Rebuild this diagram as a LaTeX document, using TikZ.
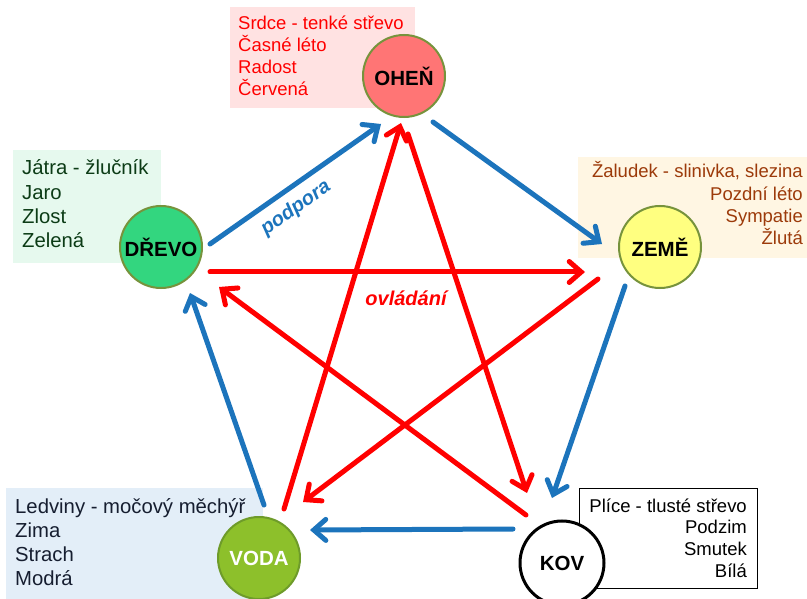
\documentclass[tikz,border=0pt]{standalone}
\usepackage{fontspec}
\setmainfont{Liberation Sans}
\usetikzlibrary{arrows.meta}
\definecolor{ablue}{RGB}{28,116,188}
\definecolor{ared}{RGB}{255,0,0}
\definecolor{olivebd}{RGB}{119,147,60}
\definecolor{ohenfill}{RGB}{255,117,117}
\definecolor{ohenbg}{RGB}{255,226,226}
\definecolor{drevofill}{RGB}{51,214,127}
\definecolor{drevobg}{RGB}{230,249,238}
\definecolor{drevotxt}{RGB}{12,60,22}
\definecolor{zemefill}{RGB}{255,255,128}
\definecolor{zemebg}{RGB}{255,246,227}
\definecolor{zemetxt}{RGB}{156,58,10}
\definecolor{vodafill}{RGB}{141,192,43}
\definecolor{vodabd}{RGB}{110,155,42}
\definecolor{vodabg}{RGB}{227,238,248}
\definecolor{vodatxt}{RGB}{22,30,48}
\begin{document}
\begin{tikzpicture}[x=1pt,y=-1pt,
  circ/.style={circle, draw=olivebd, line width=2pt, minimum size=82pt, inner sep=0pt,
    font=\fontsize{20.5}{24}\selectfont\bfseries},
  bgbox/.style={rectangle, inner sep=0pt, anchor=north west},
  smalltxt/.style={inner sep=0pt, font=\fontsize{18.5}{22}\selectfont},
  bigtxt/.style={inner sep=0pt, font=\fontsize{20.3}{24}\selectfont},
  supportarrow/.style={draw=ablue, line width=5pt, line cap=round,
    -{Straight Barb[length=12pt,width=21pt,line cap=round]}},
  ctrlarrow/.style={draw=ared, line width=5pt, line cap=round,
    -{Straight Barb[length=12pt,width=21pt,line cap=round]}},
  lbl/.style={inner sep=0pt, font=\fontsize{20}{24}\selectfont\bfseries\itshape}]
\useasboundingbox (0,0) rectangle (807,599);

% background boxes
\node[bgbox, fill=ohenbg, minimum width=185pt, minimum height=101pt] (ohenbox) at (230,7) {};
\node[bgbox, fill=drevobg, minimum width=148pt, minimum height=113pt] (drevobox) at (13,150) {};
\node[bgbox, fill=zemebg, minimum width=229pt, minimum height=101pt] (zemebox) at (578,157) {};
\node[bgbox, fill=vodabg, minimum width=257pt, minimum height=111pt] (vodabox) at (6,488) {};
\node[bgbox, fill=white, draw=black, line width=1.3pt, minimum width=178pt, minimum height=100pt] (kovbox) at (579,488) {};

% box texts
\foreach \t [count=\i] in {Srdce - tenké střevo, Časné léto, Radost, Červená}
  \node[smalltxt, text=ared, anchor=base west] (ohent\i) at (238,{30+22*(\i-1)}) {\t};
\foreach \t [count=\i] in {Játra - žlučník, Jaro, Zlost, Zelená}
  \node[bigtxt, text=drevotxt, anchor=base west] (drevot\i) at (22,{175+24.3*(\i-1)}) {\t};
\foreach \t [count=\i] in {{Žaludek - slinivka, slezina}, Pozdní léto, Sympatie, Žlutá}
  \node[smalltxt, text=zemetxt, anchor=base east] (zemet\i) at (803,{178+22.3*(\i-1)}) {\t};
\foreach \t [count=\i] in {Ledviny - močový měchýř, Zima, Strach, Modrá}
  \node[bigtxt, text=vodatxt, anchor=base west] (vodat\i) at (15,{513+24.3*(\i-1)}) {\t};
\foreach \t [count=\i] in {Plíce - tlusté střevo, Podzim, Smutek, Bílá}
  \node[smalltxt, text=black, anchor=base east] (kovt\i) at (747,{512+21.7*(\i-1)}) {\t};

% arrow end points
\coordinate (b1s) at (210,244); \coordinate (b1e) at (381,124);
\coordinate (b2s) at (433,122); \coordinate (b2e) at (602,244);
\coordinate (b3s) at (625,286); \coordinate (b3e) at (552,498);
\coordinate (b4s) at (513,529); \coordinate (b4e) at (310,530);
\coordinate (b5s) at (264,505); \coordinate (b5e) at (190,293);
\coordinate (r1s) at (210,272); \coordinate (r1e) at (585,272);
\coordinate (r2s) at (598,279); \coordinate (r2e) at (303,502);
\coordinate (r3s) at (284,509); \coordinate (r3e) at (401,123);
\coordinate (r4s) at (408,134); \coordinate (r4e) at (527,493);
\coordinate (r5s) at (526,515); \coordinate (r5e) at (219,287);

% control (red) arrows
\draw[ctrlarrow] (r1s) -- (r1e);
\draw[ctrlarrow] (r2s) -- (r2e);
\draw[ctrlarrow] (r3s) -- (r3e);
\draw[ctrlarrow] (r4s) -- (r4e);
\draw[ctrlarrow] (r5s) -- (r5e);
% support (blue) arrows
\draw[supportarrow] (b1s) -- (b1e);
\draw[supportarrow] (b2s) -- (b2e);
\draw[supportarrow] (b3s) -- (b3e);
\draw[supportarrow] (b4s) -- (b4e);
\draw[supportarrow] (b5s) -- (b5e);

% element circles
\node[circ, fill=ohenfill] (ohen) at (404,76) {OHEŇ};
\node[circ, fill=drevofill] (drevo) at (161,247) {DŘEVO};
\node[circ, fill=zemefill] (zeme) at (660,247) {ZEMĚ};
\node[circ, fill=vodafill, draw=vodabd, text=white] (voda) at (259,558) {VODA};
\node[circ, fill=white, draw=black, line width=3pt, minimum size=84pt] (kov) at (562,563) {KOV};

% labels
\node[lbl, text=ablue, rotate=35] (podpora) at (296,208) {podpora};
\node[lbl, text=ared] (ovladani) at (406,298) {ovládání};
\end{tikzpicture}
\end{document}
